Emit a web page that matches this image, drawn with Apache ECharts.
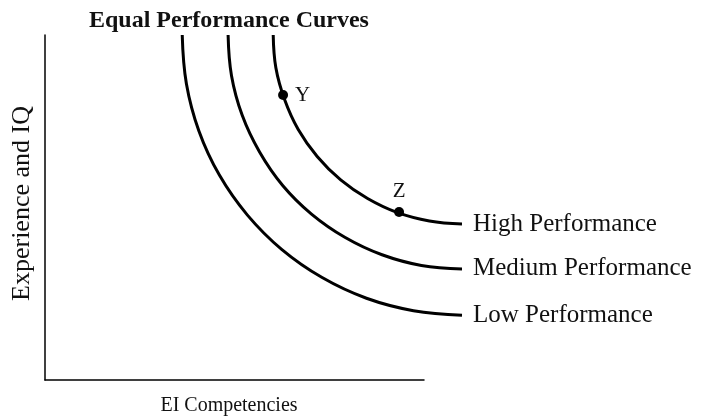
<!DOCTYPE html>
<html>
<head>
<meta charset="utf-8">
<script src="https://cdn.jsdelivr.net/npm/echarts@6/dist/echarts.min.js"></script>
<style>
html,body{margin:0;padding:0;background:#fff;}
#chart{width:706px;height:416px;}
</style>
</head>
<body>
<div id="chart"></div>
<script>
// Curve names (labels at right end)
const curveNames = ['Low Performance', 'Medium Performance', 'High Performance'];
// Points (x = EI Competencies, y = Experience and IQ)
const lowX  = [36.2, 37.3, 40.6, 46.0, 53.4, 62.5, 73.1, 84.8, 97.2, 110.0];
const lowY  = [100, 85.9, 72.2, 59.4, 47.8, 37.8, 29.7, 23.7, 20.1, 18.8];
const medX  = [48.3, 49.2, 52.0, 56.6, 62.7, 70.3, 79.2, 88.9, 99.3, 110.0];
const medY  = [100, 88.2, 76.8, 66.1, 56.4, 48.1, 41.3, 36.3, 33.2, 32.2];
const highX = [60.2, 60.9, 63.2, 66.8, 71.8, 78.0, 85.1, 93.0, 101.4, 110.0];
const highY = [100, 90.5, 81.3, 72.6, 64.8, 58.0, 52.6, 48.5, 46.1, 45.2];
// Marked points on the high curve
const pointNames = ['Y', 'Z'];
const pointX = [62.8, 93.4];
const pointY = [82.6, 48.7];

const FONT = '"Liberation Serif", "Times New Roman", serif';
const INK = '#111';

function zip(xs, ys) { return xs.map((x, i) => [x, ys[i]]); }

const curves = [zip(lowX, lowY), zip(medX, medY), zip(highX, highY)];

const series = curves.map((pts, ci) => ({
  type: 'line',
  name: curveNames[ci],
  xAxisIndex: 1, yAxisIndex: 1,
  data: pts,
  smooth: 0.4,
  showSymbol: false,
  symbol: 'none',
  clip: false,
  silent: true,
  lineStyle: { color: '#000', width: 3, cap: 'butt' },
  endLabel: {
    show: true, distance: 11,
    formatter: curveNames[ci],
    fontFamily: FONT, fontSize: 25, color: INK
  },
  z: 2
}));

const posRules = ['right', 'top'];
series.push({
  type: 'scatter',
  xAxisIndex: 1, yAxisIndex: 1,
  data: pointNames.map((n, i) => ({
    value: [pointX[i], pointY[i]],
    name: n,
    label: {
      show: true,
      position: posRules[i],
      distance: i === 0 ? 7 : 5,
      formatter: n,
      fontFamily: FONT, fontSize: 21, color: INK
    }
  })),
  symbolSize: 10,
  itemStyle: { color: '#000', opacity: 1 },
  clip: false,
  z: 3
});

const hidden = {
  axisLine: { show: false }, axisTick: { show: false },
  axisLabel: { show: false }, splitLine: { show: false }
};

const chart = echarts.init(document.getElementById('chart'), null, { renderer: 'canvas' });
chart.setOption({
  animation: false,
  backgroundColor: '#fff',
  title: {
    text: 'Equal Performance Curves',
    left: 84, top: 4,
    textStyle: { fontFamily: FONT, fontSize: 24, fontWeight: 'bold', color: INK }
  },
  grid: [
    { left: 45, top: 35, width: 379, height: 345, containLabel: false, outerBoundsMode: 'none' },
    { left: 45, top: 35, width: 417, height: 345, containLabel: false, outerBoundsMode: 'none' }
  ],
  xAxis: [{
    gridIndex: 0, type: 'value', min: 0, max: 100,
    name: 'EI Competencies', nameLocation: 'middle', nameGap: 16,
    nameTextStyle: { fontFamily: FONT, fontSize: 20, color: INK, padding: [0, 11, 0, 0] },
    axisLine: { show: true, lineStyle: { color: '#000', width: 1.5 } },
    axisTick: { show: false }, axisLabel: { show: false }, splitLine: { show: false }
  }, Object.assign({ gridIndex: 1, type: 'value', min: 0, max: 110 }, hidden)],
  yAxis: [{
    gridIndex: 0, type: 'value', min: 0, max: 100,
    name: 'Experience and IQ', nameLocation: 'middle', nameGap: 10,
    nameTextStyle: { fontFamily: FONT, fontSize: 26, color: INK, padding: [0, 0, 0, 8] },
    axisLine: { show: true, lineStyle: { color: '#000', width: 1.5 } },
    axisTick: { show: false }, axisLabel: { show: false }, splitLine: { show: false }
  }, Object.assign({ gridIndex: 1, type: 'value', min: 0, max: 100 }, hidden)],
  series: series
});
</script>
</body>
</html>
